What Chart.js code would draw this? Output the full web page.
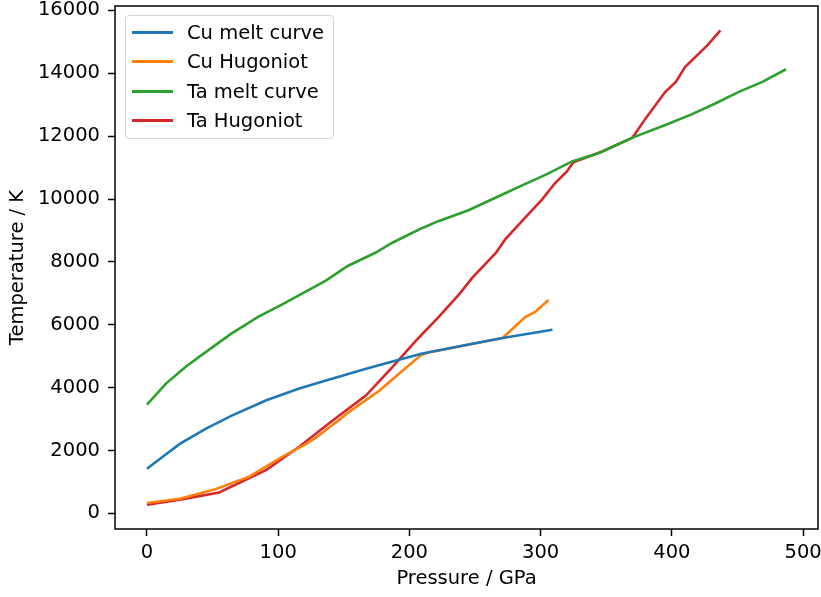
<!DOCTYPE html>
<html>
<head>
<meta charset="utf-8">
<script src="https://cdn.jsdelivr.net/npm/chart.js@4"></script>
<style>
    body { margin: 0; background: #fff; }
    #wrap { position: relative; width: 821px; height: 597px; }
    #legend {
        position: absolute; left: 125px; top: 15px; width: 207px; height: 122px;
        border: 1px solid #d4d4d4; border-radius: 4px; background: rgba(255,255,255,0.8);
        font-family: 'DejaVu Sans', sans-serif; font-size: 19.5px; color: #000;
    }
    .row { position: absolute; left: 0; height: 24px; display: flex; align-items: center; }
    .row .handle { width: 41px; height: 3px; margin-left: 6px; margin-right: 14px; }
</style>
</head>
<body>
<div id="wrap">
    <canvas id="chart" width="821" height="597"></canvas>
    <div id="legend"></div>
</div>
<script>
// data
const cuMeltP = [0, 12, 25, 45, 65, 91, 116, 139, 167, 185, 209, 240, 271, 309];
const cuMeltT = [1420, 1800, 2210, 2700, 3120, 3600, 3970, 4260, 4600, 4810, 5080, 5330, 5580, 5840];

const cuHugP = [0, 25, 52, 78, 103, 121, 129, 139, 146, 154, 177, 192, 208.6, 215, 222.5, 271, 288, 296, 306];
const cuHugT = [330, 465, 770, 1170, 1800, 2200, 2420, 2740, 2960, 3230, 3900, 4440, 5030, 5127, 5181, 5580, 6235, 6415, 6786];

const taMeltP = [0, 14.5, 30, 50, 64, 85, 101, 136, 153, 174, 187, 200, 210, 222, 245, 268, 288, 304, 324, 344, 370, 395, 415, 433, 451, 469, 487];
const taMeltT = [3460, 4130, 4680, 5290, 5710, 6260, 6600, 7400, 7870, 8290, 8610, 8880, 9080, 9296, 9644, 10087, 10476, 10774, 11195, 11457, 11954, 12356, 12692, 13040, 13410, 13727, 14128];

const taHugP = [0, 25, 55, 91, 116, 141, 167, 187, 205, 222, 238, 248, 266, 273, 288, 301, 311, 320, 325, 347, 370, 380, 395, 403, 410, 427, 437];
const taHugT = [275, 434, 665, 1383, 2121, 2940, 3757, 4653, 5498, 6235, 6975, 7501, 8292, 8716, 9400, 9982, 10508, 10878, 11172, 11511, 11954, 12565, 13410, 13727, 14201, 14888, 15363];

const seriesLabels = ['Cu melt curve', 'Cu Hugoniot', 'Ta melt curve', 'Ta Hugoniot'];
const seriesColors = ['#1f77b4', '#ff7f0e', '#2ca02c', '#d62728'];
const seriesP = [cuMeltP, cuHugP, taMeltP, taHugP];
const seriesT = [cuMeltT, cuHugT, taMeltT, taHugT];

const xTicks = [0, 100, 200, 300, 400, 500];
const yTicks = [0, 2000, 4000, 6000, 8000, 10000, 12000, 14000, 16000];

const FONT = { family: "'DejaVu Sans', sans-serif", size: 19.5 };

// frame round the plot area, like matplotlib spines
const framePlugin = {
    id: 'frame',
    afterDatasetsDraw(chart) {
        const { ctx, chartArea: a } = chart;
        ctx.save();
        ctx.strokeStyle = '#000';
        ctx.lineWidth = 1.5;
        ctx.strokeRect(a.left, a.top, a.right - a.left, a.bottom - a.top);
        ctx.restore();
    }
};

const datasets = seriesLabels.map((label, i) => ({
    label: label,
    data: seriesP[i].map((p, j) => ({ x: p, y: seriesT[i][j] })),
    borderColor: seriesColors[i],
    backgroundColor: seriesColors[i],
    borderWidth: 2.6,
    showLine: true,
    pointRadius: 0,
    tension: 0,
    fill: false
}));

new Chart(document.getElementById('chart').getContext('2d'), {
    type: 'scatter',
    data: { datasets: datasets },
    options: {
        responsive: false,
        devicePixelRatio: 1,
        animation: false,
        layout: { padding: { top: 6, right: 3, left: 0, bottom: 0 } },
        plugins: {
            legend: { display: false },
            tooltip: { enabled: false }
        },
        scales: {
            x: {
                type: 'linear',
                min: -24.35,
                max: 511.35,
                afterBuildTicks: (scale) => { scale.ticks = xTicks.map(v => ({ value: v })); },
                afterFit: (scale) => {
                    scale.height = 68;
                    scale.paddingLeft = 0;
                    scale.paddingRight = 0;
                },
                border: { display: false },
                grid: { drawOnChartArea: false, tickLength: 7, tickColor: '#000', tickWidth: 1.5 },
                ticks: { color: '#000', font: FONT, padding: 5, maxRotation: 0, callback: (v) => String(v) },
                title: { display: true, text: 'Pressure / GPa', color: '#000', font: FONT, padding: { top: 0, bottom: 6 } }
            },
            y: {
                type: 'linear',
                min: -496,
                max: 16140,
                afterBuildTicks: (scale) => { scale.ticks = yTicks.map(v => ({ value: v })); },
                afterFit: (scale) => {
                    scale.width = 115;
                    scale.paddingTop = 0;
                    scale.paddingBottom = 0;
                },
                border: { display: false },
                grid: { drawOnChartArea: false, tickLength: 7, tickColor: '#000', tickWidth: 1.5 },
                ticks: { color: '#000', font: FONT, padding: 8, callback: (v) => String(v) },
                title: { display: true, text: 'Temperature / K', color: '#000', font: FONT, padding: { top: 6, bottom: 0 } }
            }
        }
    },
    plugins: [framePlugin]
});

// legend inside the axes, top left
const legend = document.getElementById('legend');
seriesLabels.forEach((label, i) => {
    const row = document.createElement('div');
    row.className = 'row';
    row.style.top = Math.round(4 + i * 29.4) + 'px';
    row.innerHTML = `<span class="handle" style="background:${seriesColors[i]}"></span><span>${label}</span>`;
    legend.appendChild(row);
});
</script>
</body>
</html>
